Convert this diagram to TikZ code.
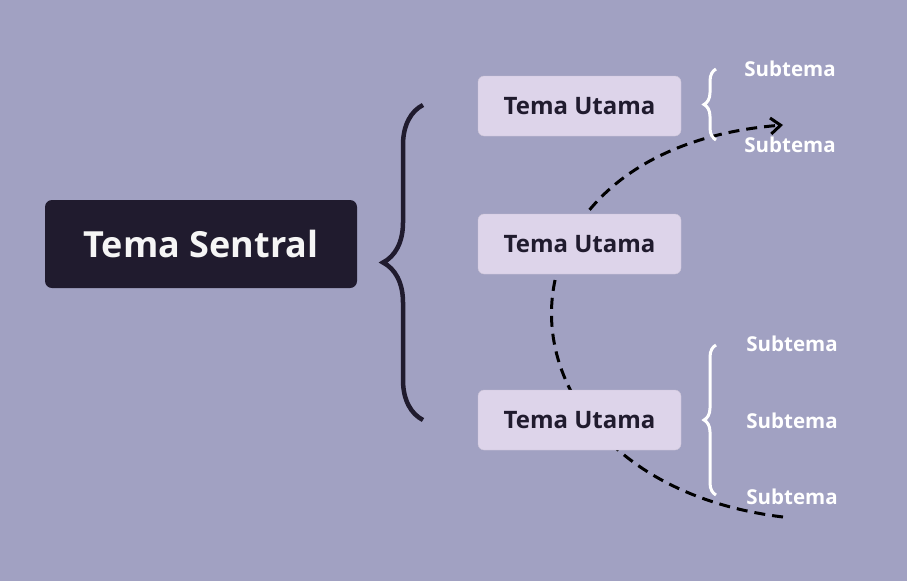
\documentclass[tikz,border=0pt]{standalone}
\usepackage{fontspec}
\setmainfont{Open Sans}
\usetikzlibrary{decorations.pathreplacing,arrows.meta}
\definecolor{bgcol}{HTML}{A1A1C2}
\definecolor{darkbox}{HTML}{201B2E}
\definecolor{lightbox}{HTML}{DDD4EA}
\tikzset{
  central/.style={fill=darkbox, rounded corners=7pt, minimum width=312pt, minimum height=88pt,
                  text=white!92!gray, font=\fontsize{36}{40}\selectfont\bfseries},
  maintopic/.style={fill=lightbox, draw=lightbox!80!gray, rounded corners=6pt, minimum width=203pt,
                    minimum height=60pt, text=darkbox, font=\fontsize{24}{28}\selectfont\bfseries},
  subtopic/.style={text=white, font=\fontsize{20.5}{24}\selectfont\bfseries},
  bigbrace/.style={decorate, decoration={brace, amplitude=40pt}, line width=4.5pt, darkbox},
  smallbrace/.style={decorate, decoration={brace, amplitude=12pt}, line width=3pt, white}
}
\begin{document}
\begin{tikzpicture}[x=1pt, y=-1pt]
  \fill [bgcol] (0,0) rectangle (907,581);                       % background
  %dashed arc (under the boxes)
  \coordinate (arcstart) at (783,517);
  \coordinate (arcend)   at (783,125);
  \draw [line width=3pt, dash pattern=on 11pt off 7pt, -{Straight Barb[length=10pt,width=16pt]}]
        (arcstart) .. controls (480,480) and (470,150) .. (arcend);
  \node [central]   (tsentral) at (201,244) {Tema Sentral};
  \node [maintopic] (tu1) at (579.5,106) {Tema Utama};
  \node [maintopic] (tu2) at (579.5,244) {Tema Utama};
  \node [maintopic] (tu3) at (579.5,420) {Tema Utama};
  \node [subtopic]  (st1) at (790,69)  {Subtema};
  \node [subtopic]  (st2) at (790,145) {Subtema};
  \node [subtopic]  (st3) at (792,344) {Subtema};
  \node [subtopic]  (st4) at (792,421) {Subtema};
  \node [subtopic]  (st5) at (792,497) {Subtema};
  %braces
  \draw [bigbrace]   (423,420) -- (423,105);
  \draw [smallbrace] (716,140) -- (716,69);
  \draw [smallbrace] (716,495) -- (716,345);
\end{tikzpicture}
\end{document}
